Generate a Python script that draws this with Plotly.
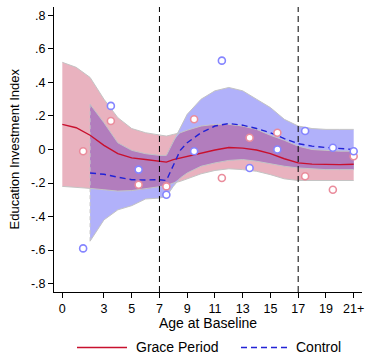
import numpy as np
import plotly.graph_objects as go

# ---- data ----
ages = [0, 1, 2, 3, 4, 5, 6, 7, 7.5, 8, 8.5, 9, 10, 11, 12, 13, 14, 15, 16, 17, 18, 19, 20, 21]

grace_fit = [0.15, 0.13, 0.085, 0.025, -0.025, -0.05, -0.06, -0.07, -0.075, -0.06, -0.05, -0.04,
             -0.02, -0.003, 0.012, 0.008, -0.003, -0.025, -0.055, -0.08, -0.087, -0.09, -0.09, -0.088]
grace_hi = [0.52, 0.49, 0.43, 0.30, 0.19, 0.125, 0.10, 0.085, 0.08, 0.09, 0.10, 0.115,
            0.14, 0.15, 0.15, 0.14, 0.12, 0.085, 0.055, 0.02, 0.0, -0.005, -0.01, -0.01]
grace_lo = [-0.22, -0.225, -0.232, -0.24, -0.248, -0.245, -0.235, -0.222, -0.215, -0.20, -0.19, -0.175,
            -0.145, -0.125, -0.115, -0.12, -0.13, -0.15, -0.175, -0.185, -0.185, -0.185, -0.185, -0.185]

control_fit = [None, None, -0.14, -0.148, -0.165, -0.18, -0.182, -0.18, -0.185, -0.09, -0.005, 0.04,
               0.10, 0.14, 0.155, 0.145, 0.125, 0.10, 0.065, 0.035, 0.02, 0.012, 0.006, 0.0]
control_hi = [None, None, 0.27, 0.16, 0.04, -0.005, -0.025, -0.035, -0.035, 0.05, 0.13, 0.21,
              0.30, 0.35, 0.37, 0.35, 0.30, 0.25, 0.18, 0.14, 0.125, 0.12, 0.12, 0.12]
control_lo = [None, None, -0.547, -0.42, -0.36, -0.335, -0.295, -0.29, -0.28, -0.22, -0.17, -0.14,
              -0.10, -0.08, -0.065, -0.06, -0.07, -0.085, -0.10, -0.11, -0.115, -0.12, -0.12, -0.12]

bin_ages = [1.5, 3.5, 5.5, 7.5, 9.5, 11.5, 13.5, 15.5, 17.5, 19.5, 21]
grace_means = [-0.01, 0.17, -0.21, -0.22, 0.18, -0.17, 0.07, 0.10, -0.16, -0.24, -0.04]
control_means = [-0.59, 0.26, -0.12, -0.27, -0.01, 0.53, -0.11, 0.0, 0.11, 0.01, -0.01]

series_names = ["Grace Period", "Control"]
cutoffs = [7, 17]
x_ticks = [0, 3, 5, 7, 9, 11, 13, 15, 17, 19, 21]
x_ticktext = ["0", "3", "5", "7", "9", "11", "13", "15", "17", "19", "21+"]
y_ticks = [-0.8, -0.6, -0.4, -0.2, 0, 0.2, 0.4, 0.6, 0.8]
y_ticktext = ["-.8", "-.6", "-.4", "-.2", "0", ".2", ".4", ".6", ".8"]

# ---- styles ----
PINK = "#e9b2bf"
BLUE = "#b1b1fa"
PURPLE = "#b27dbd"
OUTLINE = "#c4c4c4"
RED = "#c8102e"
DBLUE = "#2222d6"
FONT = "Liberation Sans, Arial, sans-serif"
W, H = 365, 354
ML, MR, MT, MB = 54, 3, 7, 62
PLOT_W = W - ML - MR
PLOT_H = H - MT - MB


def px_x(p):
    return (p - ML) / PLOT_W


def px_y(p):
    return (H - MB - p) / PLOT_H


a = np.array(ages, dtype=float)
g_hi = np.array(grace_hi, dtype=float)
g_lo = np.array(grace_lo, dtype=float)
c_hi = np.array([np.nan if v is None else v for v in control_hi], dtype=float)
c_lo = np.array([np.nan if v is None else v for v in control_lo], dtype=float)
c_mask = ~np.isnan(c_hi)

fig = go.Figure()


def band(x, hi, lo, color):
    xs = list(x) + list(x[::-1])
    ys = list(hi) + list(lo[::-1])
    fig.add_trace(go.Scatter(x=xs, y=ys, fill="toself", fillcolor=color, mode="none",
                             showlegend=False, hoverinfo="skip"))


band(a, g_hi, g_lo, PINK)
band(a[c_mask], c_hi[c_mask], c_lo[c_mask], BLUE)
ov_hi = np.minimum(g_hi[c_mask], c_hi[c_mask])
ov_lo = np.maximum(g_lo[c_mask], c_lo[c_mask])
band(a[c_mask], ov_hi, ov_lo, PURPLE)

# band outlines
for xx, yy in [(a, g_hi), (a, g_lo), (a[c_mask], c_hi[c_mask]), (a[c_mask], c_lo[c_mask])]:
    fig.add_trace(go.Scatter(x=xx, y=yy, mode="lines", line=dict(color=OUTLINE, width=1),
                             showlegend=False, hoverinfo="skip"))
ac = a[c_mask]
fig.add_trace(go.Scatter(x=[ac[0], ac[0]], y=[c_lo[c_mask][0], c_hi[c_mask][0]], mode="lines",
                         line=dict(color=OUTLINE, width=1, dash="4px,3px"),
                         showlegend=False, hoverinfo="skip"))

# fitted lines
fig.add_trace(go.Scatter(x=ages, y=grace_fit, mode="lines", name=series_names[0], showlegend=False,
                         line=dict(color=RED, width=1.4)))
fig.add_trace(go.Scatter(x=ages, y=control_fit, mode="lines", name=series_names[1], showlegend=False,
                         line=dict(color=DBLUE, width=1.4, dash="6px,4px")))

# bin means
fig.add_trace(go.Scatter(x=bin_ages, y=grace_means, mode="markers", showlegend=False,
                         marker=dict(symbol="circle", size=7, color="white",
                                     line=dict(color="#ea8c9c", width=1.6))))
fig.add_trace(go.Scatter(x=bin_ages, y=control_means, mode="markers", showlegend=False,
                         marker=dict(symbol="circle", size=7, color="white",
                                     line=dict(color="#8585ff", width=1.6))))

for c in cutoffs:
    fig.add_shape(type="line", xref="x", yref="paper", x0=c, x1=c, y0=0, y1=1,
                  line=dict(color="black", width=1, dash="6px,4px"), layer="above")

# axis titles
fig.add_annotation(text="Education Investment Index", xref="paper", yref="paper",
                   x=px_x(14), y=0.5, textangle=-90, showarrow=False,
                   xanchor="center", yanchor="middle", font=dict(size=13))
fig.add_annotation(text="Age at Baseline", xref="paper", yref="paper",
                   x=0.5, y=px_y(323), showarrow=False,
                   xanchor="center", yanchor="middle", font=dict(size=14))

# legend (drawn as keys + labels below the plot)
legend_keys = [
    (series_names[0], dict(color=RED, width=1.6), 77, 127, 134),
    (series_names[1], dict(color=DBLUE, width=1.6, dash="6px,4px"), 241, 287, 294),
]
LEG_Y = 346.5
for name, lstyle, x0, x1, tx in legend_keys:
    fig.add_shape(type="line", xref="paper", yref="paper", x0=px_x(x0), x1=px_x(x1),
                  y0=px_y(LEG_Y + 1), y1=px_y(LEG_Y + 1), line=lstyle)
    fig.add_annotation(text=name, xref="paper", yref="paper", x=px_x(tx), y=px_y(LEG_Y),
                       showarrow=False, xanchor="left", yanchor="middle", font=dict(size=14))

fig.update_layout(
    width=W, height=H,
    margin=dict(l=ML, r=MR, t=MT, b=MB, autoexpand=False),
    paper_bgcolor="white", plot_bgcolor="white",
    font=dict(family=FONT, size=13, color="black"),
    showlegend=False,
    xaxis=dict(range=[-0.6, 21.6], tickvals=x_ticks, ticktext=x_ticktext,
               showline=True, linecolor="black", linewidth=1, ticks="outside", ticklen=5,
               tickcolor="black", showgrid=False, zeroline=False, automargin=False,
               tickfont=dict(size=12.5)),
    yaxis=dict(range=[-0.85, 0.85], tickvals=y_ticks, ticktext=y_ticktext,
               showline=True, linecolor="black", linewidth=1, ticks="outside", ticklen=5,
               tickcolor="black", showgrid=False, zeroline=False, automargin=False,
               tickfont=dict(size=12.5)),
)

fig.write_html("out.html", config={"displayModeBar": False},
               post_script="document.body.style.margin='0px';document.body.style.overflow='hidden';")
